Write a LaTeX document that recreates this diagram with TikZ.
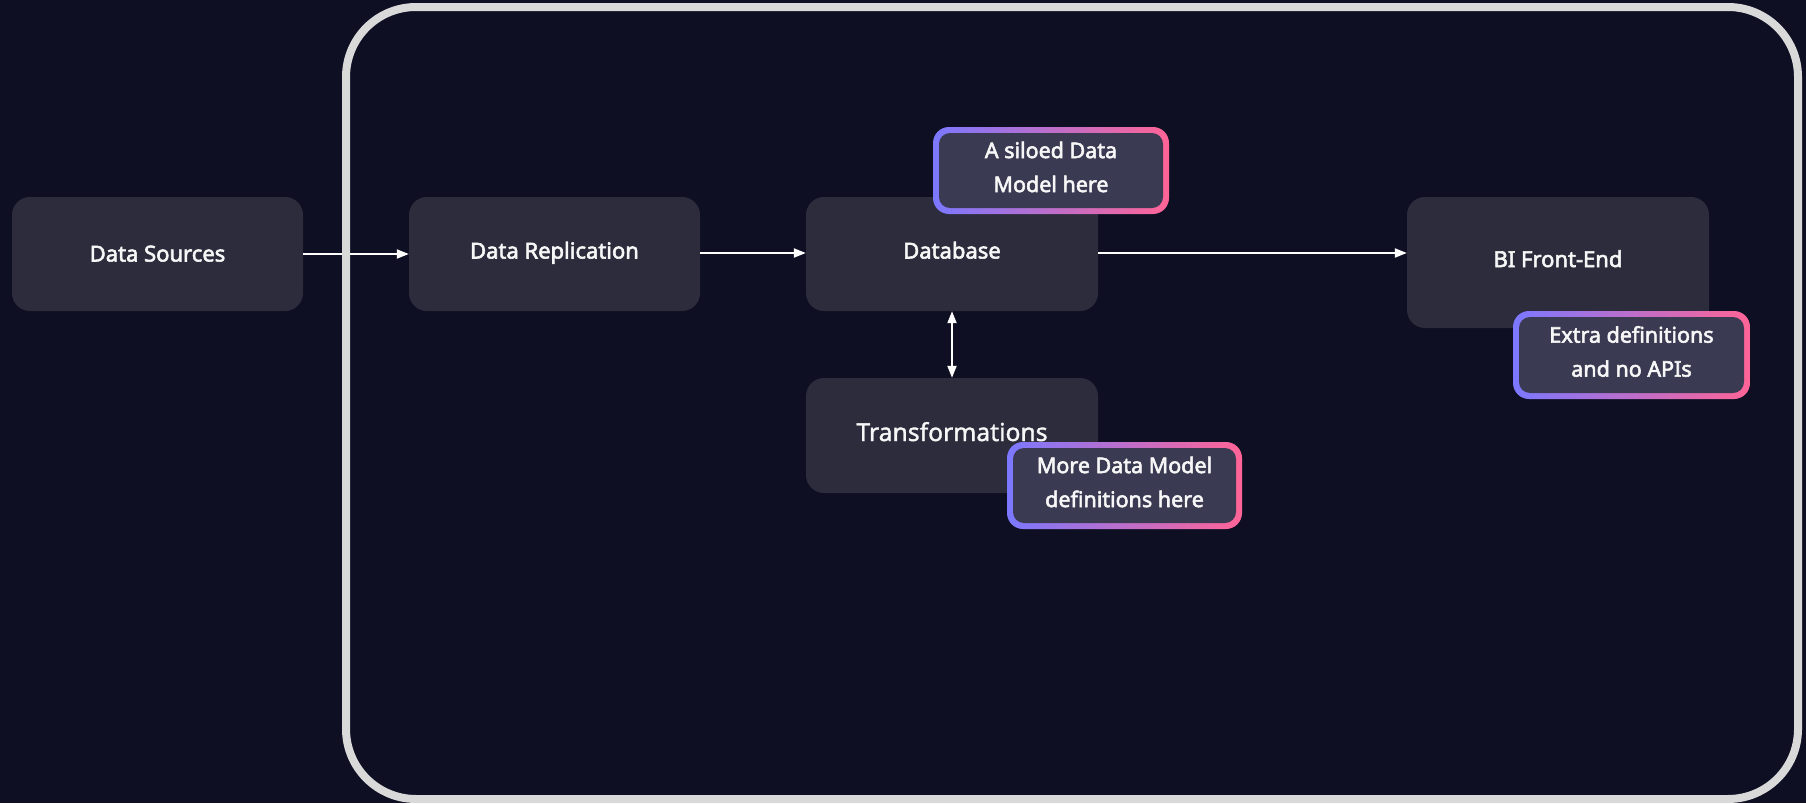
\documentclass[tikz,border=0pt]{standalone}
\usepackage{fontspec}
\setmainfont{Noto Sans}[AutoFakeBold=2.6]
\newfontfamily\medfont{Noto Sans}[FakeBold=1.4]
\usetikzlibrary{arrows.meta}
\definecolor{bgc}{HTML}{0E0F23}
\definecolor{boxc}{HTML}{2D2C3C}
\definecolor{framec}{HTML}{D9D9D9}
\definecolor{callc}{HTML}{3A3A52}
\definecolor{gleft}{HTML}{7B78FF}
\definecolor{gright}{HTML}{FF6496}
\definecolor{txtc}{HTML}{F7F7F7}
\tikzset{
  stage/.style={fill=boxc, rounded corners=18pt, text=txtc, inner sep=0pt,
    text height=16pt, font=\fontsize{22}{26}\selectfont\bfseries},
  callouttext/.style={text=txtc, inner sep=0pt, align=center,
    font=\fontsize{21.5}{34}\selectfont\bfseries},
  calloutfill/.style={fill=callc, rounded corners=11pt},
  flow/.style={draw=white, line width=2pt, -{Triangle[length=12pt,width=9pt]}},
  flow2/.style={draw=white, line width=2pt, {Triangle[length=12pt,width=9pt]}-{Triangle[length=12pt,width=9pt]}},
  rim/.style={left color=gleft, right color=gright, rounded corners=16pt}
}
\begin{document}
\begin{tikzpicture}[x=1pt,y=-1pt]
\fill[bgc] (0,0) rectangle (1806,803);
\useasboundingbox (0,0) rectangle (1806,803);

\node[stage, minimum width=291pt, minimum height=114pt, text depth=1pt] (ds) at (157.5,254) {Data Sources};
\node[stage, minimum width=291pt, minimum height=114pt, text depth=7pt] (dr) at (554.5,254) {Data Replication};
\node[stage, minimum width=292pt, minimum height=114pt, text depth=7pt] (db) at (952,254) {Database};
\node[stage, minimum width=292pt, minimum height=115pt, text height=17.5pt, text depth=6.5pt,
  font=\fontsize{24.7}{28}\selectfont\medfont] (tr) at (952,435.5) {Transformations};
\node[stage, minimum width=302pt, minimum height=131pt, text depth=7pt] (bi) at (1558,262.5) {BI Front-End};

\draw[flow] (ds.east) -- (dr.west);
\draw[flow] ([yshift=1pt]dr.east) -- ([yshift=1pt]db.west);
\draw[flow] ([yshift=1pt]db.east) -- ([yshift=1pt]db.east -| bi.west);
\draw[flow2] (db.south) -- (tr.north);

\draw[framec, line width=8pt, rounded corners=70pt] (346,7) rectangle (1798,799);

% callouts
\shade[rim] (933,127) rectangle (1169,214);
\fill[calloutfill] (939,133) rectangle (1163,208);
\node[callouttext] (c1) at (1051,167) {A siloed Data\\Model here};

\shade[rim] (1007,442) rectangle (1242,529);
\fill[calloutfill] (1013,448) rectangle (1236,523);
\node[callouttext] (c2) at (1124.5,482) {More Data Model\\definitions here};

\shade[rim] (1513,311) rectangle (1750,399);
\fill[calloutfill] (1519,317) rectangle (1744,393);
\node[callouttext] (c3) at (1631.5,351.5) {Extra definitions\\and no APIs};
\end{tikzpicture}
\end{document}
